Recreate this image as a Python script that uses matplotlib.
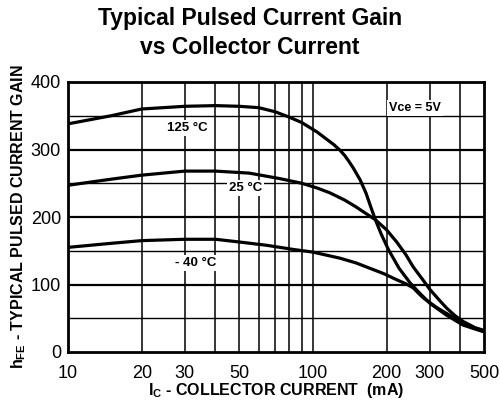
import numpy as np
import matplotlib
matplotlib.use("Agg")
import matplotlib.pyplot as plt

plt.rcParams['font.family'] = ['Liberation Sans', 'DejaVu Sans']
plt.rcParams['mathtext.fontset'] = 'custom'
plt.rcParams['mathtext.rm'] = 'Liberation Sans:bold'
plt.rcParams['mathtext.bf'] = 'Liberation Sans:bold'

# collector current (mA) and gain for each temperature
ic_125 = [10, 15, 20, 30, 40, 50, 60, 70, 80, 90, 104, 115, 122, 129, 135, 140, 146, 156, 165, 172, 180, 190, 204, 225, 250, 275, 301, 350, 410, 460, 500]
hfe_125 = [338, 350, 360, 364, 365, 364, 362, 356, 348, 340, 326, 314, 307, 299, 291, 283, 273, 255, 235, 216, 196, 175, 151, 124, 102, 86, 72, 55, 40, 34, 30]

ic_25 = [10, 15, 20, 30, 40, 55, 73, 90, 104, 117, 135, 150, 165, 180, 200, 220, 240, 257, 280, 300, 330, 352, 380, 412, 460, 500]
hfe_25 = [247, 256, 262, 268, 268, 265, 257, 250, 243, 236, 225, 215, 205, 196, 181, 163, 144, 126, 108, 93, 76, 65, 54, 45, 36, 32]

ic_m40 = [10, 15, 20, 30, 40, 50, 65, 83, 100, 129, 150, 171, 195, 220, 240, 257, 270, 283, 320, 352, 410, 460, 500]
hfe_m40 = [155, 161, 165, 167, 167, 163, 158, 152, 148, 139, 132, 124, 116, 107, 101, 95, 87, 80, 66, 57, 43, 35, 30]

xticks = [10, 20, 30, 50, 100, 200, 300, 500]
xgrid = [20, 30, 40, 50, 60, 70, 80, 90, 100, 200, 300, 400]
yticks = [0, 100, 200, 300, 400]
ygrid_minor = [50, 150, 250, 350]

fig = plt.figure(figsize=(5, 4), dpi=100)
ax = fig.add_axes([0.136, 0.12, 0.832, 0.675])

for x in xgrid:
    ax.axvline(x, color='black', lw=1.1, zorder=1)
for y in yticks[1:-1]:
    ax.axhline(y, color='black', lw=1.6, zorder=1)
for y in ygrid_minor:
    ax.axhline(y, color='black', lw=1.0, zorder=1)

for ic, hfe in [(ic_125, hfe_125), (ic_25, hfe_25), (ic_m40, hfe_m40)]:
    ax.plot(ic, hfe, color='black', lw=2.3, zorder=3, solid_capstyle='round', solid_joinstyle='round')

box = dict(facecolor='white', edgecolor='none', pad=1.5)
ax.text(30.6, 332, '125 °C', ha='center', va='center', fontsize=9.5, fontweight='bold', bbox=box, zorder=4)
ax.text(53, 243, '25 °C', ha='center', va='center', fontsize=9.5, fontweight='bold', bbox=box, zorder=4)
ax.text(33.3, 132, '- 40 °C', ha='center', va='center', fontsize=9.5, fontweight='bold', bbox=box, zorder=4)
ax.text(261, 361, 'Vce = 5V', ha='center', va='center', fontsize=9, fontweight='bold', bbox=box, zorder=4)

ax.set_xscale('log')
ax.set_xlim(10, 500)
ax.set_ylim(0, 400)
ax.set_xticks(xticks)
ax.set_xticklabels([str(v) for v in xticks])
ax.xaxis.set_minor_locator(matplotlib.ticker.NullLocator())
ax.set_yticks(yticks)
ax.tick_params(length=0, labelsize=13)
ax.tick_params(axis='x', pad=9)
ax.tick_params(axis='y', pad=5)
for s in ax.spines.values():
    s.set_linewidth(2)

ax.set_xlabel(r'I$_{\mathrm{C}}$ - COLLECTOR CURRENT  (mA)', fontsize=11.5, fontweight='bold', labelpad=0)
ax.set_ylabel(r'h$_{\mathrm{FE}}$ - TYPICAL PULSED CURRENT GAIN', fontsize=11.5, fontweight='bold', labelpad=2)
fig.text(0.5, 0.955, 'Typical Pulsed Current Gain', ha='center', va='center', fontsize=16.5, fontweight='bold')
fig.text(0.5, 0.88, 'vs Collector Current', ha='center', va='center', fontsize=16.5, fontweight='bold')

fig.savefig('out.png', dpi=100)
